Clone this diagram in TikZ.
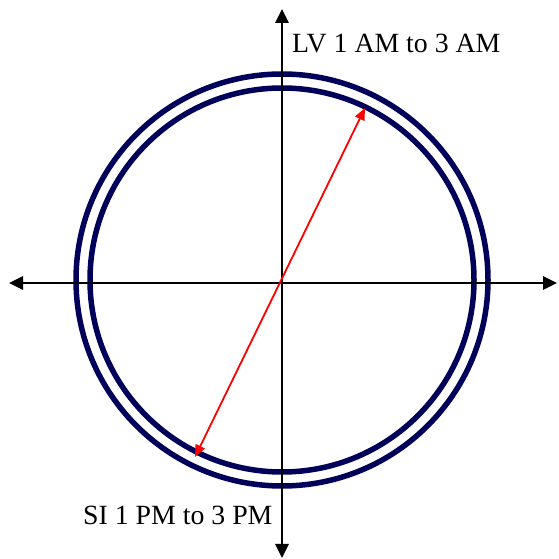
\documentclass[tikz,border=0pt]{standalone}
\usepackage{fontspec}
\setmainfont{Liberation Serif}
\usetikzlibrary{arrows.meta}
\tikzset{
 axis/.style={line width=2.6pt,{Triangle[length=14pt,width=13pt]}-{Triangle[length=14pt,width=13pt]}},
 ring/.style={draw={rgb,255:red,0;green,0;blue,90},line width=5.5pt},
 span/.style={draw=red,line width=1.8pt,{Triangle[length=12pt,width=10pt]}-{Triangle[length=12pt,width=10pt]}},
 tag/.style={anchor=base west,inner sep=0,font=\fontsize{27.8}{32}\selectfont}
}
\begin{document}
\begin{tikzpicture}[x=1pt,y=1pt]
\path[use as bounding box] (0,0) rectangle (559,559);
\coordinate (O) at (282,276);
\coordinate (C) at (282,279);
\coordinate (W) at (9,276);
\coordinate (E) at (557,276);
\coordinate (N) at (282,550);
\coordinate (S) at (282,1);
\coordinate (P) at (365,451);
\coordinate (Q) at (195,102);
\draw[ring] (C) circle[radius=206];
\draw[ring] (C) circle[radius=192];
\draw[axis] (W) -- (E);
\draw[axis] (S) -- (N);
\draw[span] (Q) -- (P);
\node[tag] (lv) at (292,506) {LV 1 AM to 3 AM};
\node[tag] (si) at (83,34) {SI 1 PM to 3 PM};
\end{tikzpicture}
\end{document}
